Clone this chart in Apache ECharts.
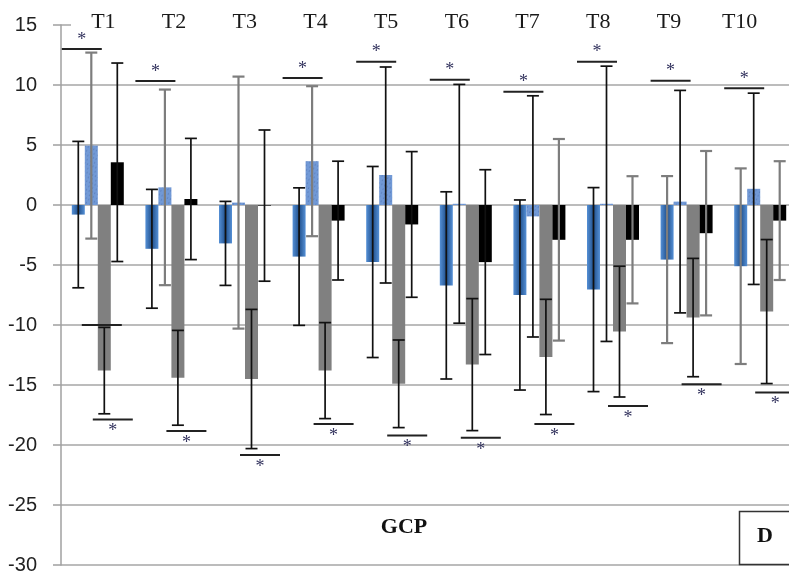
<!DOCTYPE html>
<html><head><meta charset="utf-8">
<script src="https://cdn.jsdelivr.net/npm/echarts@6/dist/echarts.min.js"></script>
<style>html,body{margin:0;padding:0;background:#fff}#c{width:789px;height:577px}</style>
</head><body><div id="c"></div>
<script>
// ---- data ----
const categories = ['T1','T2','T3','T4','T5','T6','T7','T8','T9','T10'];
const yTicks = [-30,-25,-20,-15,-10,-5,0,5,10,15];
const blueMean  = [-0.8, -3.65, -3.2, -4.3, -4.75, -6.7, -7.5, -7.05, -4.55, -5.1];
const blueErr   = [6.1, 4.95, 3.5, 5.73, 7.96, 7.8, 7.92, 8.5, 6.96, 8.15];
const dotMean   = [4.95, 1.47, 0.2, 3.65, 2.5, 0.1, -0.95, 0.1, 0.28, 1.35];
const dotErr    = [7.75, 8.15, 10.5, 6.25, 9.0, 9.95, 10.05, 11.47, 9.27, 7.97];
const grayMean  = [-13.8, -14.4, -14.5, -13.8, -14.9, -13.3, -12.66, -10.55, -9.38, -8.88];
const grayErr   = [3.6, 3.95, 5.8, 4.0, 3.65, 5.5, 4.8, 5.45, 4.93, 6.0];
const blackMean = [3.56, 0.5, -0.05, -1.3, -1.62, -4.76, -2.9, -2.9, -2.35, -1.3];
const blackErr  = [8.27, 5.05, 6.3, 4.95, 6.07, 7.7, 8.4, 5.3, 6.85, 4.95];
const sigTop    = [13.0, 10.33, null, 10.58, 11.94, 10.44, 9.44, 11.94, 10.36, 9.72];
const sigBottom = [-17.87, -18.84, -20.84, -18.26, -19.2, -19.4, -18.26, -16.76, -14.93, -15.62];
const extraLine = [-10, null, null, null, null, null, null, null, null, null];

// ---- styles ----
const BAR_W = 13;
const BLACK = '#111', GRAY = '#7d7d7d';
const errColor = [
  i => i < 8 ? BLACK : GRAY,
  i => i < 4 ? GRAY : BLACK,
  i => BLACK,
  i => i < 6 ? BLACK : GRAY
];
const serif = '"Liberation Serif", "Times New Roman", serif';

function errSeries(k, means, errs) {
  return {
    type: 'custom', z: 4, xAxisIndex: 0, yAxisIndex: 0,
    data: means.map((m, i) => [i, m, errs[i]]),
    encode: { x: 0, y: 1 },
    renderItem: (params, api) => {
      const i = api.value(0), m = api.value(1), e = api.value(2);
      const x = api.coord([i, m])[0] + (k - 1.5) * BAR_W;
      const yt = api.coord([i, m + e])[1], yb = api.coord([i, m - e])[1];
      const col = errColor[k](params.dataIndex);
      const st = { stroke: col, lineWidth: col === GRAY ? 2.2 : 1.7 };
      return { type: 'group', children: [
        { type: 'line', shape: { x1: x, y1: yt, x2: x, y2: yb }, style: st },
        { type: 'line', shape: { x1: x - 6, y1: yt, x2: x + 6, y2: yt }, style: st },
        { type: 'line', shape: { x1: x - 6, y1: yb, x2: x + 6, y2: yb }, style: st }
      ]};
    }
  };
}

function sigSeries(vals, offset, starDy) {
  const data = [];
  vals.forEach((v, i) => { if (v != null) data.push([i, v]); });
  return {
    type: 'custom', z: 5, xAxisIndex: 0, yAxisIndex: 0, data,
    encode: { x: 0, y: 1 },
    renderItem: (params, api) => {
      const c = api.coord([api.value(0), api.value(1)]);
      const cx = c[0] + offset, y = c[1];
      const children = [{ type: 'line', shape: { x1: cx - 20, y1: y, x2: cx + 20, y2: y },
        style: { stroke: '#222', lineWidth: 2 } }];
      if (starDy != null) children.push({ type: 'text', x: cx, y: y + starDy,
        style: { text: '*', fill: '#33335e', font: '18px ' + serif,
          align: 'center', verticalAlign: 'middle', textAlign: 'center', textVerticalAlign: 'middle' } });
      return { type: 'group', children };
    }
  };
}

const chart = echarts.init(document.getElementById('c'));
chart.setOption({
  animation: false,
  backgroundColor: '#fff',
  grid: [
    { left: 61, top: 25, width: 736, height: 540, outerBoundsMode: 'none', containLabel: false },
    { left: 68, top: 25, width: 707, height: 10, outerBoundsMode: 'none', containLabel: false }
  ],
  xAxis: [
    { type: 'category', data: categories, gridIndex: 0, show: false },
    { type: 'category', data: categories, gridIndex: 1, position: 'top', z: 10,
      axisLine: { show: false }, axisTick: { show: false }, splitLine: { show: false },
      axisLabel: { margin: 3, verticalAlign: 'middle', fontSize: 22, fontFamily: serif, color: '#1a1a1a' } }
  ],
  yAxis: [
    { type: 'value', gridIndex: 0, min: yTicks[0], max: yTicks[yTicks.length - 1], interval: 5, z: 0,
      axisLine: { show: true, lineStyle: { color: '#a0a0a0', width: 1.5 } },
      axisTick: { show: true, length: 8, lineStyle: { color: '#a0a0a0', width: 1.5 } },
      splitLine: { show: true, lineStyle: { color: '#a6a6a6', width: 1.5 } },
      axisLabel: { margin: 24, fontSize: 20, fontFamily: '"Liberation Sans", Arial, sans-serif', color: '#222' } },
    { type: 'value', gridIndex: 1, show: false }
  ],
  graphic: [
    { type: 'rect', z: 1, shape: { x: 71, y: 0, width: 718, height: 27 }, style: { fill: '#fff' } },
    { type: 'text', z: 10, x: 404, y: 527, style: { text: 'GCP', font: 'bold 22px ' + serif, fill: '#111',
        align: 'center', verticalAlign: 'middle' } },
    { type: 'rect', z: 10, shape: { x: 739.5, y: 511.5, width: 60, height: 53 },
      style: { fill: '#fff', stroke: '#333', lineWidth: 1.5 } },
    { type: 'text', z: 11, x: 765, y: 536, style: { text: 'D', font: 'bold 22px ' + serif, fill: '#111',
        align: 'center', verticalAlign: 'middle' } }
  ],
  series: [
    { type: 'bar', name: 'a', data: blueMean, barWidth: BAR_W, barGap: '0%', z: 2,
      itemStyle: { color: new echarts.graphic.LinearGradient(0, 0, 1, 0, [
        { offset: 0, color: '#5590d6' }, { offset: 0.5, color: '#21508c' }, { offset: 1, color: '#5590d6' }]) } },
    { type: 'bar', name: 'b', data: dotMean, barWidth: BAR_W, barGap: '0%', z: 2,
      itemStyle: { color: '#7199d6',
        decal: { symbol: 'circle', symbolSize: 0.9, color: 'rgba(20,40,100,0.7)',
          dashArrayX: [[1, 2], [0, 1.5, 1, 0.5]], dashArrayY: [2, 1.5], rotation: 0.4 } } },
    { type: 'bar', name: 'c', data: grayMean, barWidth: BAR_W, barGap: '0%', z: 2,
      itemStyle: { color: '#808080' } },
    { type: 'bar', name: 'd', data: blackMean, barWidth: BAR_W, barGap: '0%', z: 2,
      itemStyle: { color: '#000' } },
    errSeries(0, blueMean, blueErr),
    errSeries(1, dotMean, dotErr),
    errSeries(2, grayMean, grayErr),
    errSeries(3, blackMean, blackErr),
    sigSeries(sigTop, -16, -9),
    sigSeries(sigBottom, 15, 12),
    sigSeries(extraLine, 4, null)
  ]
});
</script>
</body></html>
